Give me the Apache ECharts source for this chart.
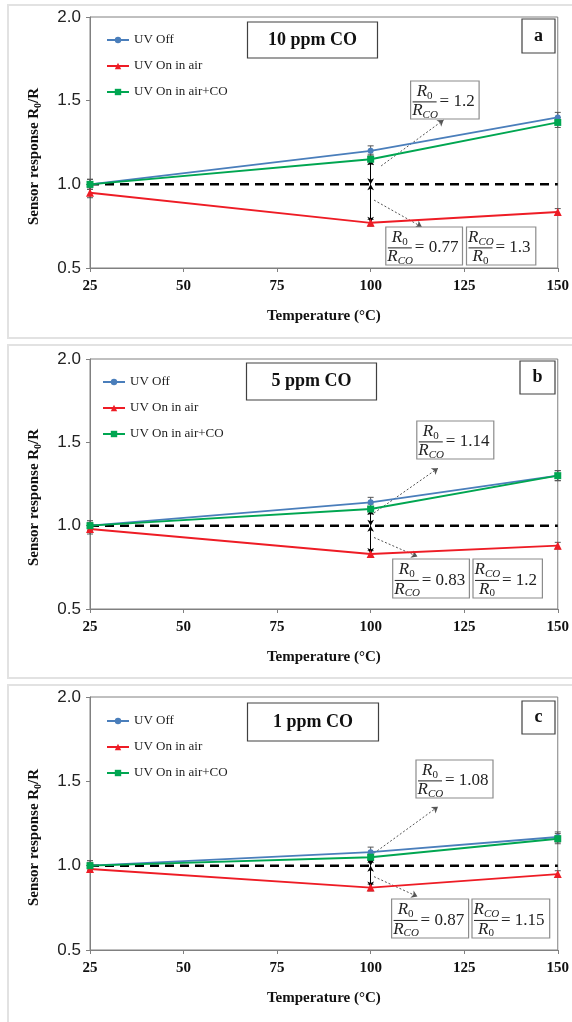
<!DOCTYPE html>
<html><head><meta charset="utf-8">
<script src="https://cdn.jsdelivr.net/npm/echarts@6/dist/echarts.min.js"></script>
<style>html,body{margin:0;padding:0;background:#fff}#c{width:572px;height:1022px}</style>
</head><body><div id="c"></div>
<script>
// ---------------- DATA ----------------
const temperatures = [25, 100, 150];
const xMin = 25, xMax = 150, xStep = 25;
const yMin = 0.5, yMax = 2.0, yStep = 0.5;
const panelLetters = ['a', 'b', 'c'];
const panelTitles = ['10 ppm CO', '5 ppm CO', '1 ppm CO'];
const seriesNames = ['UV Off', 'UV On in air', 'UV On in air+CO'];
const uvOff     = [[1.00, 1.20, 1.40], [1.00, 1.14, 1.30], [1.00, 1.08, 1.17]];
const uvOnAir   = [[0.95, 0.77, 0.835], [0.98, 0.83, 0.88], [0.98, 0.87, 0.95]];
const uvOnAirCO = [[1.00, 1.15, 1.37], [1.00, 1.10, 1.30], [1.00, 1.05, 1.16]];
const errOff    = [[0.03, 0.03, 0.03], [0.03, 0.03, 0.03], [0.03, 0.03, 0.03]];
const errAir    = [[0.03, 0.02, 0.02], [0.03, 0.02, 0.02], [0.02, 0.02, 0.02]];
const errCO     = [[0.03, 0.03, 0.03], [0.02, 0.03, 0.03], [0.02, 0.02, 0.03]];
const baseline = 1.0;
const ratioUp   = ['1.2', '1.14', '1.08'];
const ratioDown = ['0.77', '0.83', '0.87'];
const ratioInv  = ['1.3', '1.2', '1.15'];
const xTitle = 'Temperature (°C)';

// ---------------- LAYOUT ----------------
const L = {
  grids: [{top: 17, height: 251}, {top: 359, height: 250}, {top: 697, height: 253}],
  frames: [[8, 5, 600, 333], [8, 345, 600, 333], [8, 685, 600, 345]],
  titleBox: [[247.5, 22, 130, 36], [246.5, 363, 130, 37], [247.5, 703, 131, 38]],
  letterBox: [[522, 19, 33, 34], [520, 361, 35, 33], [522, 701, 33, 33]],
  upBox: [[410.6, 81, 68.5, 38], [416.8, 421, 77, 38], [416, 760, 77, 38]],
  downBox: [[385.8, 227, 76.7, 38], [392.7, 559, 76.7, 39], [391.6, 899, 77, 39]],
  invBox: [[466.5, 227, 69.3, 38], [473, 559, 69.4, 39], [472, 899, 77.7, 39]],
  legend: [[106, 32.5], [102, 374.5], [106, 713.5]],
  yTitle: [[35, 156.5], [35, 497.5], [35, 837.5]],
  arrowUp: [[102.8, 1.11, 119.5, 1.385], [100.9, 1.076, 118, 1.345], [100.9, 1.074, 118, 1.35]],
  arrowDown: [[100.9, 0.906, 113.7, 0.745], [100.9, 0.929, 112.5, 0.815], [100.9, 0.935, 112.5, 0.817]]
};
const COLORS = ['#4a7ebb', '#ee1c25', '#00a651'];
const SERIF = '"Liberation Serif", "Times New Roman", serif';

function renderErr(params, api) {
  const x = api.value(0), y = api.value(1), e = api.value(2);
  const hi = api.coord([x, y + e]), lo = api.coord([x, y - e]);
  const w = 3, st = {stroke: '#555', lineWidth: 1};
  return {type: 'group', children: [
    {type: 'line', shape: {x1: hi[0], y1: hi[1], x2: lo[0], y2: lo[1]}, style: st},
    {type: 'line', shape: {x1: hi[0] - w, y1: hi[1], x2: hi[0] + w, y2: hi[1]}, style: st},
    {type: 'line', shape: {x1: lo[0] - w, y1: lo[1], x2: lo[0] + w, y2: lo[1]}, style: st}
  ]};
}

function sym(cx, cy, main, sub) {
  const mw = 10.4, sw = sub.length === 1 ? 5.5 : 14.5;
  const x0 = cx - (mw + sw) / 2;
  return [
    {type: 'text', x: x0, y: cy, z: 101, style: {text: main, font: 'italic 17px ' + SERIF, fill: '#222', verticalAlign: 'middle', align: 'left'}},
    {type: 'text', x: x0 + mw, y: cy + 4, z: 101, style: {text: sub, font: (sub === '0' ? '' : 'italic ') + '11px ' + SERIF, fill: '#222', verticalAlign: 'middle', align: 'left'}}
  ];
}
function fracBox(b, numSub, denSub, val) {
  const [x, y, w, h] = b;
  const cx = x + 14, ly = y + h * 0.55;
  return [
    {type: 'rect', z: 100, shape: {x, y, width: w, height: h}, style: {fill: '#fff', stroke: '#8c8c8c', lineWidth: 1.2}},
    ...sym(cx, y + h * 0.28, 'R', numSub),
    {type: 'line', z: 101, shape: {x1: x + 2, y1: ly, x2: x + 26, y2: ly}, style: {stroke: '#222', lineWidth: 1}},
    ...sym(cx, y + h * 0.78, 'R', denSub),
    {type: 'text', z: 101, x: x + 29, y: ly, style: {text: '= ' + val, font: '17px ' + SERIF, fill: '#222', verticalAlign: 'middle', align: 'left'}}
  ];
}

const grids = [], xAxes = [], yAxes = [], series = [], legends = [], graphics = [];
for (let i = 0; i < 3; i++) {
  grids.push({left: 90, width: 470, top: L.grids[i].top, height: L.grids[i].height,
    show: true, borderColor: '#808080', borderWidth: 1, backgroundColor: 'transparent'});
  xAxes.push({type: 'value', gridIndex: i, min: xMin, max: xMax, interval: xStep,
    axisLine: {lineStyle: {color: '#808080'}}, axisTick: {show: true, length: 4, lineStyle: {color: '#808080'}},
    axisLabel: {fontFamily: SERIF, fontWeight: 'bold', fontSize: 15, color: '#111', margin: 11},
    splitLine: {show: false},
    name: xTitle, nameLocation: 'middle', nameGap: 41,
    nameTextStyle: {fontFamily: SERIF, fontWeight: 'bold', fontSize: 15, color: '#111'}});
  yAxes.push({type: 'value', gridIndex: i, min: yMin, max: yMax, interval: yStep,
    axisLine: {show: true, lineStyle: {color: '#808080'}}, axisTick: {show: true, length: 4, lineStyle: {color: '#808080'}},
    axisLabel: {fontFamily: '"Liberation Sans", Arial, sans-serif', fontSize: 17, color: '#222', margin: 9,
      formatter: v => v.toFixed(1)},
    splitLine: {show: false}});

  // baseline dashed + double arrows
  series.push({type: 'line', xAxisIndex: i, yAxisIndex: i, silent: true, symbol: 'none', z: 2,
    data: [[xMin, baseline], [xMax, baseline]],
    lineStyle: {color: '#000', width: 2.5, type: [9, 6]},
    markLine: {silent: true, symbol: ['arrow', 'arrow'], symbolSize: [5, 6], label: {show: false},
      lineStyle: {color: '#000', width: 1, type: 'solid'}, animation: false,
      data: [
        [{coord: [temperatures[1], uvOnAirCO[i][1]]}, {coord: [temperatures[1], baseline]}],
        [{coord: [temperatures[1], baseline]}, {coord: [temperatures[1], uvOnAir[i][1]]}]
      ]}});
  // error bars + dotted annotation arrows
  const errData = [];
  [[uvOff, errOff], [uvOnAir, errAir], [uvOnAirCO, errCO]].forEach(([v, e]) => {
    temperatures.forEach((t, k) => errData.push([t, v[i][k], e[i][k]]));
  });
  const au = L.arrowUp[i], ad = L.arrowDown[i];
  series.push({type: 'custom', xAxisIndex: i, yAxisIndex: i, silent: true, z: 3, clip: false,
    renderItem: renderErr, encode: {x: 0, y: 1}, data: errData,
    markLine: {silent: true, symbol: ['none', 'arrow'], symbolSize: 6, label: {show: false},
      lineStyle: {color: '#555', width: 1, type: [2, 2]}, animation: false,
      data: [
        [{coord: [au[0], au[1]]}, {coord: [au[2], au[3]]}],
        [{coord: [ad[0], ad[1]]}, {coord: [ad[2], ad[3]]}]
      ]}});
  const sets = [uvOff, uvOnAir, uvOnAirCO];
  const symbols = ['circle', 'triangle', 'rect'];
  const sizes = [6, 8, 7];
  sets.forEach((s, j) => {
    series.push({type: 'line', name: seriesNames[j], xAxisIndex: i, yAxisIndex: i, z: 5,
      data: temperatures.map((t, k) => [t, s[i][k]]),
      symbol: symbols[j], symbolSize: sizes[j], showAllSymbol: true,
      itemStyle: {color: COLORS[j]}, lineStyle: {color: COLORS[j], width: 1.9}});
  });

  legends.push({data: seriesNames, orient: 'vertical', left: L.legend[i][0], top: L.legend[i][1],
    padding: 0, itemGap: 11, itemWidth: 22, itemHeight: 8, selectedMode: false,
    textStyle: {fontFamily: SERIF, fontSize: 13, color: '#222', lineHeight: 15}});

  // graphics
  const f = L.frames[i];
  graphics.push({type: 'rect', z: 1, shape: {x: f[0], y: f[1], width: f[2], height: f[3]},
    style: {fill: 'none', stroke: '#e2e2e2', lineWidth: 2}});
  const tb = L.titleBox[i];
  graphics.push({type: 'rect', z: 100, shape: {x: tb[0], y: tb[1], width: tb[2], height: tb[3]},
    style: {fill: '#fff', stroke: '#404040', lineWidth: 1.2}});
  graphics.push({type: 'text', z: 101, x: tb[0] + tb[2] / 2, y: tb[1] + tb[3] / 2,
    style: {text: panelTitles[i], font: 'bold 18px ' + SERIF, fill: '#111', align: 'center', verticalAlign: 'middle'}});
  const lb = L.letterBox[i];
  graphics.push({type: 'rect', z: 100, shape: {x: lb[0], y: lb[1], width: lb[2], height: lb[3]},
    style: {fill: '#fff', stroke: '#404040', lineWidth: 1.2}});
  graphics.push({type: 'text', z: 101, x: lb[0] + lb[2] / 2, y: lb[1] + lb[3] / 2,
    style: {text: panelLetters[i], font: 'bold 18px ' + SERIF, fill: '#111', align: 'center', verticalAlign: 'middle'}});
  graphics.push(...fracBox(L.upBox[i], '0', 'CO', ratioUp[i]));
  graphics.push(...fracBox(L.downBox[i], '0', 'CO', ratioDown[i]));
  graphics.push(...fracBox(L.invBox[i], 'CO', '0', ratioInv[i]));
  const yt = L.yTitle[i];
  graphics.push({type: 'text', z: 101, x: yt[0], y: yt[1], rotation: Math.PI / 2,
    style: {text: '{t|Sensor response R}{s|0}{t|/R}', align: 'center', verticalAlign: 'middle',
      rich: {t: {fontFamily: SERIF, fontWeight: 'bold', fontSize: 15, fill: '#111', lineHeight: 16, verticalAlign: 'top'},
             s: {fontFamily: SERIF, fontWeight: 'bold', fontSize: 10, fill: '#111', lineHeight: 10, verticalAlign: 'bottom'}}}});
}

const chart = echarts.init(document.getElementById('c'), null, {renderer: 'canvas'});
chart.setOption({
  animation: false,
  backgroundColor: '#fff',
  grid: grids, xAxis: xAxes, yAxis: yAxes, legend: legends, series: series,
  graphic: {elements: graphics}
});
</script></body></html>
